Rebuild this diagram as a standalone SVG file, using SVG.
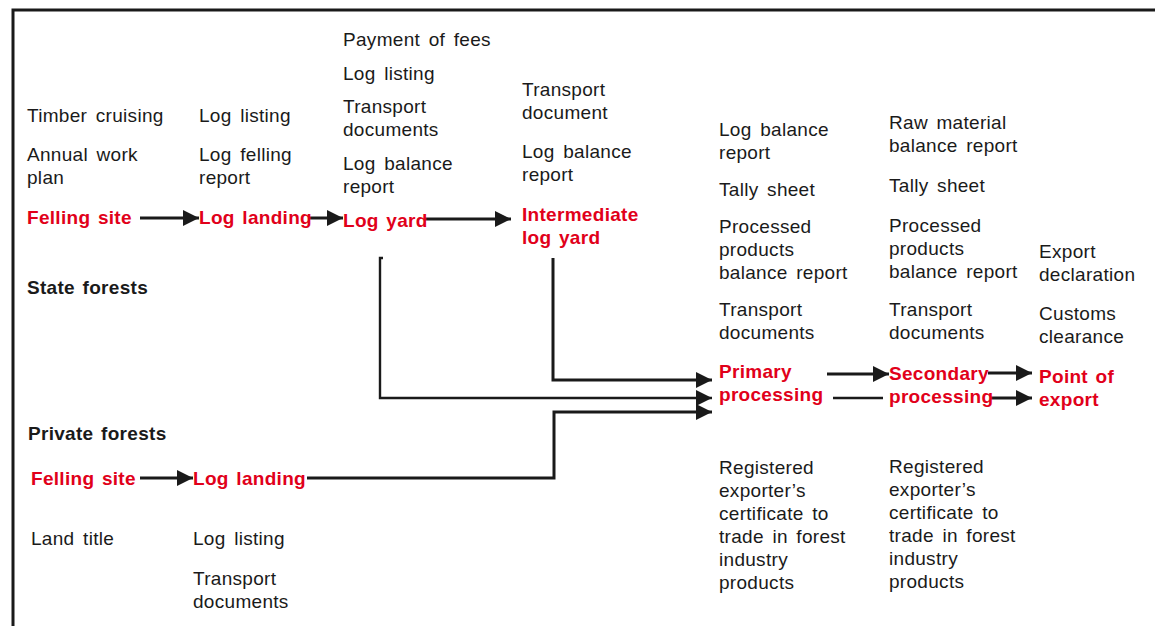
<svg xmlns="http://www.w3.org/2000/svg" width="1155" height="626" viewBox="0 0 1155 626">
<style>
text{font-family:"Liberation Sans",Arial,sans-serif;font-size:19px;fill:#1a1a1a;letter-spacing:0.3px;word-spacing:3px}
.n{font-weight:bold;fill:#e1001a;word-spacing:2px}
.h{font-weight:bold;fill:#1a1a1a;word-spacing:2px}
.c{fill:none;stroke:#1a1a1a;stroke-width:3}
.t{stroke-width:2.4}
</style>
<defs>
<marker id="a" markerUnits="userSpaceOnUse" markerWidth="16" markerHeight="16" refX="16" refY="8" orient="auto">
<path d="M0,0 L16,8 L0,16 Z" fill="#1a1a1a"/>
</marker>
</defs>
<rect width="1155" height="626" fill="#fff"/>
<g id="border">
<path d="M13,626 V10 H1155" fill="none" stroke="#1a1a1a" stroke-width="3"/>
</g>
<g id="connectors">
<path class="c" d="M140,218 H199" marker-end="url(#a)"/>
<path class="c" d="M308,218 H343" marker-end="url(#a)"/>
<path class="c" d="M425,219 H511" marker-end="url(#a)"/>
<path class="c t" d="M383,258 H380 V398 H712" marker-end="url(#a)"/>
<path class="c" d="M553,258 V380 H712" marker-end="url(#a)"/>
<path class="c" d="M307,478 H554 V412 H712" marker-end="url(#a)"/>
<path class="c" d="M140,478 H193" marker-end="url(#a)"/>
<path class="c" d="M827,374 H889" marker-end="url(#a)"/>
<path class="c t" d="M833,398 H883"/>
<path class="c" d="M988,373 H1032" marker-end="url(#a)"/>
<path class="c" d="M990,398 H1032" marker-end="url(#a)"/>
</g>
<g id="state-felling-site">
<text x="27" y="122">Timber cruising</text>
<text x="27" y="161">Annual work</text>
<text x="27" y="184">plan</text>
<text class="n" x="27" y="224">Felling site</text>
</g>
<g id="state-forests-label"><text class="h" x="27" y="294">State forests</text></g>
<g id="state-log-landing">
<text x="199" y="122">Log listing</text>
<text x="199" y="161">Log felling</text>
<text x="199" y="184">report</text>
<text class="n" x="199" y="224">Log landing</text>
</g>
<g id="log-yard">
<text x="343" y="46">Payment of fees</text>
<text x="343" y="80">Log listing</text>
<text x="343" y="113">Transport</text>
<text x="343" y="136">documents</text>
<text x="343" y="170">Log balance</text>
<text x="343" y="193">report</text>
<text class="n" x="343" y="227">Log yard</text>
</g>
<g id="intermediate-log-yard">
<text x="522" y="96">Transport</text>
<text x="522" y="119">document</text>
<text x="522" y="158">Log balance</text>
<text x="522" y="181">report</text>
<text class="n" x="522" y="221">Intermediate</text>
<text class="n" x="522" y="244">log yard</text>
</g>
<g id="primary-processing">
<text x="719" y="136">Log balance</text>
<text x="719" y="159">report</text>
<text x="719" y="196">Tally sheet</text>
<text x="719" y="233">Processed</text>
<text x="719" y="256">products</text>
<text x="719" y="279">balance report</text>
<text x="719" y="316">Transport</text>
<text x="719" y="339">documents</text>
<text class="n" x="719" y="378">Primary</text>
<text class="n" x="719" y="401">processing</text>
<text x="719" y="474">Registered</text>
<text x="719" y="497">exporter’s</text>
<text x="719" y="520">certificate to</text>
<text x="719" y="543">trade in forest</text>
<text x="719" y="566">industry</text>
<text x="719" y="589">products</text>
</g>
<g id="secondary-processing">
<text x="889" y="129">Raw material</text>
<text x="889" y="152">balance report</text>
<text x="889" y="192">Tally sheet</text>
<text x="889" y="232">Processed</text>
<text x="889" y="255">products</text>
<text x="889" y="278">balance report</text>
<text x="889" y="316">Transport</text>
<text x="889" y="339">documents</text>
<text class="n" x="889" y="380">Secondary</text>
<text class="n" x="889" y="403">processing</text>
<text x="889" y="473">Registered</text>
<text x="889" y="496">exporter’s</text>
<text x="889" y="519">certificate to</text>
<text x="889" y="542">trade in forest</text>
<text x="889" y="565">industry</text>
<text x="889" y="588">products</text>
</g>
<g id="point-of-export">
<text x="1039" y="258">Export</text>
<text x="1039" y="281">declaration</text>
<text x="1039" y="320">Customs</text>
<text x="1039" y="343">clearance</text>
<text class="n" x="1039" y="383">Point of</text>
<text class="n" x="1039" y="406">export</text>
</g>
<g id="private-forests-label"><text class="h" x="28" y="440">Private forests</text></g>
<g id="private-felling-site">
<text class="n" x="31" y="485">Felling site</text>
<text x="31" y="545">Land title</text>
</g>
<g id="private-log-landing">
<text class="n" x="193" y="485">Log landing</text>
<text x="193" y="545">Log listing</text>
<text x="193" y="585">Transport</text>
<text x="193" y="608">documents</text>
</g>
</svg>
